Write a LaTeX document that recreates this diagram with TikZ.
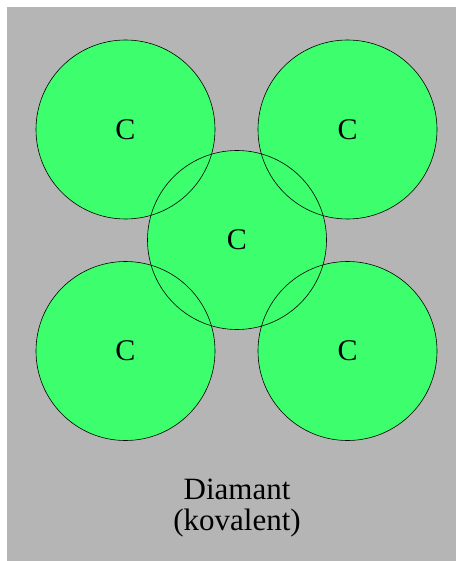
\documentclass[tikz,border=0pt]{standalone}
\usepackage{fontspec}
\setmainfont{Liberation Serif}
\usetikzlibrary{positioning}
\definecolor{atomgreen}{RGB}{61,255,109}
\definecolor{bggray}{RGB}{181,181,181}

\begin{document}
\begin{tikzpicture}[
  x=1pt,y=-1pt,
  atom/.style={circle,fill=atomgreen,minimum size=179pt,inner sep=0pt,
               font=\fontsize{30}{32}\selectfont},
  rim/.style={draw=black,line width=.6pt},
  label/.style={font=\fontsize{31}{31}\selectfont,align=center}
]
  \useasboundingbox (0,0) rectangle (456,561);
  \fill[white] (0,0) rectangle (456,561);
  \fill[bggray] (7,7) rectangle (456,561);

  % atoms: fill first, outlines on top
  \node[atom] (c1) at (125.5,129.5) {C};
  \node[atom] (c2) at (347.5,129.5) {C};
  \node[atom] (c3) at (125.5,351) {C};
  \node[atom] (c4) at (347.5,351) {C};
  \node[atom] (c0) at (237,240) {C};
  \foreach \n in {c1,c2,c3,c4,c0}
    \draw[rim] (\n.center) circle[radius=89.5pt];

  \node[label] (name) at (237,508) {Diamant\\(kovalent)};
\end{tikzpicture}
\end{document}
